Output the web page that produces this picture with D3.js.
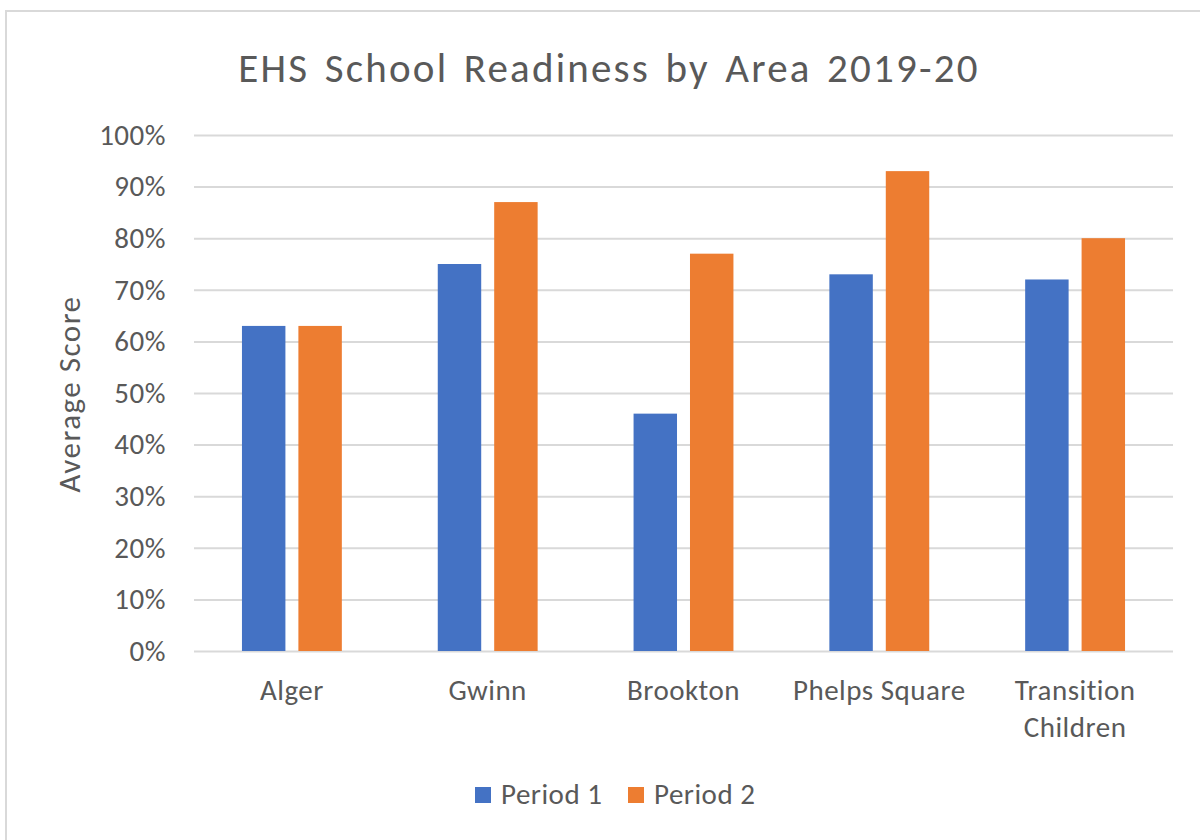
<!DOCTYPE html>
<html>
<head>
<meta charset="utf-8">
<script src="https://cdn.jsdelivr.net/npm/d3@7"></script>
<style>
  body { margin: 0; background: #fff; }
  text { font-family: Carlito, Lato, "Open Sans", sans-serif; fill: #595959; }
</style>
</head>
<body>
<div id="chart"></div>
<script>
const WIDTH = 1200
const HEIGHT = 840

const areas = ['Alger', 'Gwinn', 'Brookton', 'Phelps Square', 'Transition Children']
const series = ['Period 1', 'Period 2']
const period1 = [0.63, 0.75, 0.46, 0.73, 0.72]
const period2 = [0.63, 0.87, 0.77, 0.93, 0.80]
const yTicks = [0, 0.1, 0.2, 0.3, 0.4, 0.5, 0.6, 0.7, 0.8, 0.9, 1]
const colors = ['#4472C4', '#ED7D31']

const rows = areas.map((a, i) => ({ area: a, values: [period1[i], period2[i]] }))

const svg = d3.select('#chart').append('svg').attr('width', WIDTH).attr('height', HEIGHT)

// chart frame
svg.append('rect')
    .attr('x', 6).attr('y', 11)
    .attr('width', 1220).attr('height', 860)
    .attr('fill', '#fff')
    .attr('stroke', '#d9d9d9')
    .attr('stroke-width', 2)

const plot = { left: 194, right: 1173, top: 135, bottom: 651 }

const x0 = d3.scaleBand().domain(areas).range([plot.left, plot.right])
const x1 = d3.scaleBand().domain(series).range([0, x0.bandwidth()])
    .paddingInner(0.23).paddingOuter(0.85)
const y = d3.scaleLinear().domain([0, 1]).range([plot.bottom, plot.top])

// gridlines + y labels
const yAxis = svg.append('g')
    .attr('transform', `translate(${plot.left},0)`)
    .call(d3.axisLeft(y).tickValues(yTicks).tickFormat(d3.format('.0%')).tickSize(-(plot.right - plot.left)).tickPadding(28))
yAxis.select('.domain').remove()
yAxis.selectAll('.tick line').attr('stroke', '#d9d9d9').attr('stroke-width', 2)
yAxis.selectAll('.tick text').attr('font-size', 29).attr('letter-spacing', 0.5).style('fill', '#595959')
    .style('font-family', 'Carlito, Lato, "Open Sans", sans-serif')

// bars
const groups = svg.selectAll('g.area')
    .data(rows)
    .enter()
    .append('g')
    .attr('class', 'area')
    .attr('transform', d => `translate(${x0(d.area)},0)`)

groups.selectAll('rect')
    .data(d => d.values.map((v, i) => ({ key: series[i], value: v, idx: i })))
    .enter()
    .append('rect')
    .attr('x', d => x1(d.key))
    .attr('width', x1.bandwidth())
    .attr('y', d => y(d.value))
    .attr('height', d => y(0) - y(d.value))
    .attr('fill', d => colors[d.idx])

// x labels (wrapped)
const xLabels = svg.append('g').selectAll('text')
    .data(areas)
    .enter()
    .append('text')
    .attr('text-anchor', 'middle')
    .attr('font-size', 29)
    .attr('letter-spacing', 0.5)
    .attr('x', d => x0(d) + x0.bandwidth() / 2)
    .attr('y', 700)
xLabels.each(function (d) {
    const t = d3.select(this)
    const words = d === 'Transition Children' ? ['Transition', 'Children'] : [d]
    words.forEach((w, i) => {
        t.append('tspan')
            .attr('x', x0(d) + x0.bandwidth() / 2)
            .attr('dy', i === 0 ? 0 : 37)
            .text(w)
    })
})

// y axis title
svg.append('text')
    .attr('transform', `translate(80,${(plot.top + plot.bottom) / 2 + 1}) rotate(-90)`)
    .attr('text-anchor', 'middle')
    .attr('font-size', 31)
    .attr('letter-spacing', 1.5)
    .text('Average Score')

// title
svg.append('text')
    .attr('x', 609).attr('y', 82)
    .attr('text-anchor', 'middle')
    .attr('font-size', 41)
    .attr('letter-spacing', 2.2)
    .attr('word-spacing', 4)
    .text('EHS School Readiness by Area 2019-20')

// legend
const legend = svg.append('g')
const legendX = [475, 628]
series.forEach((s, i) => {
    legend.append('rect')
        .attr('x', legendX[i]).attr('y', 787)
        .attr('width', 16).attr('height', 16)
        .attr('fill', colors[i])
    legend.append('text')
        .attr('x', legendX[i] + 26).attr('y', 804)
        .attr('font-size', 29)
        .attr('letter-spacing', 0.5)
        .text(s)
})
</script>
</body>
</html>
